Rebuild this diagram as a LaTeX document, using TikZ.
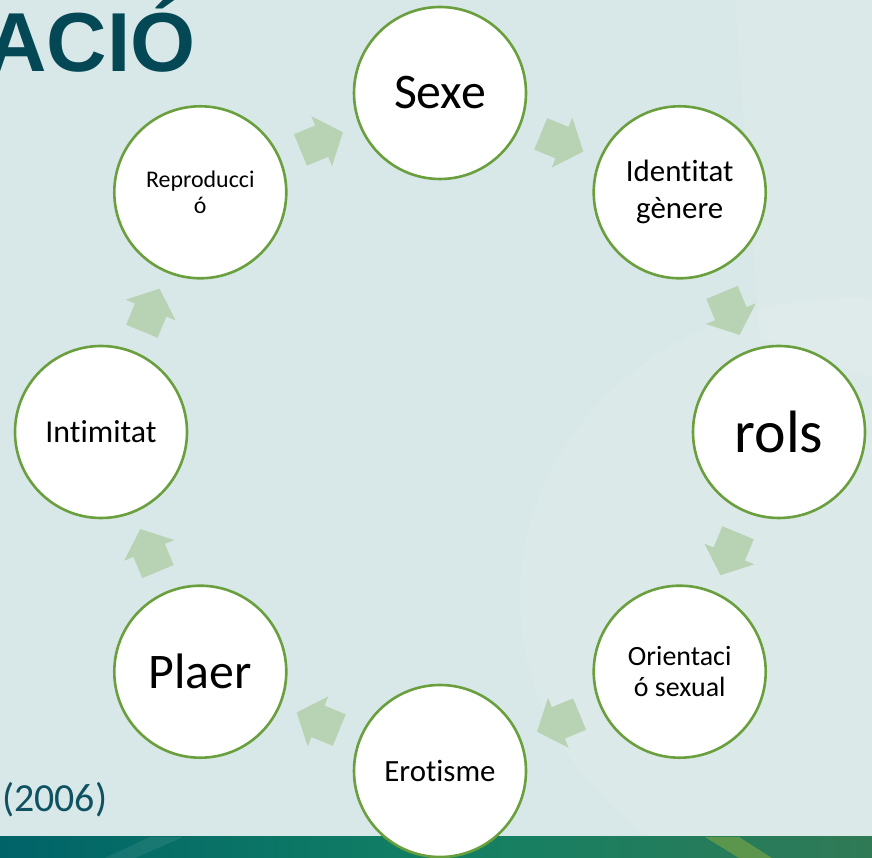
\documentclass[tikz,border=0pt]{standalone}
\usepackage{fontspec}
\setmainfont{Carlito}[RawFeature={-liga;-dlig;-clig}]
\newfontfamily\titolfont{Liberation Sans}
\usetikzlibrary{calc}
\definecolor{fons}{RGB}{216,231,231}
\definecolor{vora}{RGB}{106,159,62}
\definecolor{fletxacol}{RGB}{184,211,179}
\definecolor{titol}{RGB}{4,72,86}
\definecolor{any}{RGB}{14,82,98}
\definecolor{barraA}{RGB}{0,99,104}
\definecolor{barraM}{RGB}{18,128,100}
\definecolor{barraB}{RGB}{48,122,86}
\definecolor{barraC}{RGB}{92,150,76}
\tikzset{
  cercle/.style={circle,draw=vora,line width=2.6bp,fill=white,minimum size=172bp,inner sep=0pt,align=center},
  fletxa/.pic={\fill[fletxacol] (-21,-17) -- (2,-17) -- (2,-27) -- (25,0) -- (2,27) -- (2,17) -- (-21,17) -- cycle;},
}

\begin{document}
\begin{tikzpicture}[x=1bp,y=1bp]
  \useasboundingbox (0,0) rectangle (872,858);
  \clip (0,0) rectangle (872,858);
  \fill[fons] (0,0) rectangle (872,858);
  \fill[white,opacity=0.12] (850,260) ellipse [x radius=330,y radius=300];
  \fill[white,opacity=0.10] (735,858) -- (872,858) -- (872,480) -- (760,520) -- cycle;
  \shade[left color=barraA,right color=barraB,middle color=barraM] (0,0) rectangle (872,21);
  \fill[barraC] (705,21) -- (739,21) -- (772,0) -- (739,0) -- cycle;
  \fill[white,opacity=0.08] (150,21) -- (183,21) -- (135,0) -- (105,0) -- cycle;
  \node[anchor=base west,inner sep=0pt,text=titol,font=\titolfont\bfseries\fontsize{84}{90}\selectfont] (titol) at (-14,786) {ACIÓ};
  \node[anchor=base west,inner sep=0pt,text=any,font=\fontsize{40}{48}\selectfont] (any) at (2,46) {(2006)};
  \coordinate (c) at (440,426);
  \foreach \a in {67.5,22.5,...,-247.5}
    \pic[rotate=\a-90] at ($(c)+(\a:314)$) {fletxa};
  \node[cercle,font=\fontsize{50}{60}\selectfont] (sexe) at ($(c)+(90:339)$) {Sexe};
  \node[cercle,font=\fontsize{31}{37}\selectfont] (identitat) at ($(c)+(45:339)$) {Identitat\\gènere};
  \node[cercle,font=\fontsize{60}{72}\selectfont] (rols) at ($(c)+(0:339)$) {rols};
  \node[cercle,font=\fontsize{28}{31}\selectfont] (orientacio) at ($(c)+(-45:339)$) {Orientaci\\ó sexual};
  \node[cercle,font=\fontsize{31}{37}\selectfont] (erotisme) at ($(c)+(-90:339)$) {Erotisme};
  \node[cercle,font=\fontsize{50}{60}\selectfont] (plaer) at ($(c)+(-135:339)$) {Plaer};
  \node[cercle,font=\fontsize{32}{38}\selectfont] (intimitat) at ($(c)+(180:339)$) {Intimitat};
  \node[cercle,font=\fontsize{24}{27}\selectfont] (reproduccio) at ($(c)+(135:339)$) {Reproducci\\ó};
\end{tikzpicture}
\end{document}
